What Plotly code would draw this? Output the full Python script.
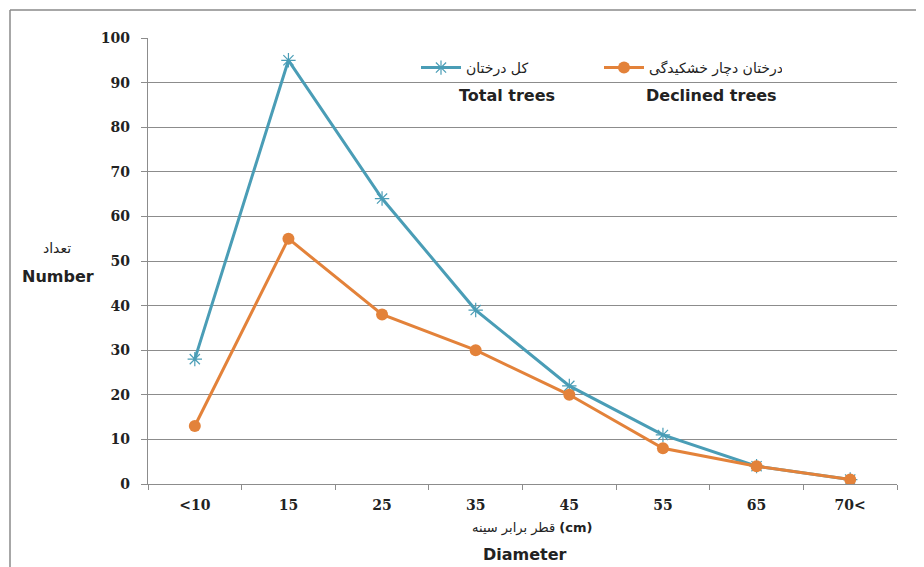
import plotly.graph_objects as go

categories = ["<10", "15", "25", "35", "45", "55", "65", "70<"]
total_trees = [28, 95, 64, 39, 22, 11, 4, 1]
declined_trees = [13, 55, 38, 30, 20, 8, 4, 1]
y_ticks = list(range(0, 101, 10))

# page body has an 8px default margin; work in reference pixel coords
OFF = 8
W, H = 924 - OFF, 567 - OFF
PL, PR, PT, PB = 148, 897, 38, 484   # plot area in reference coords
L = PL - OFF
T = PT - OFF
R = W - (PR - OFF)
B = H - (PB - OFF)
pw, ph = PR - PL, PB - PT

def px_x(x):
    return (x - PL) / pw

def px_y(y):
    return (PB - y) / ph

teal = "#4a9db6"
orange = "#e3823a"
grid = "#8c8c8c"

fig = go.Figure()
fig.add_trace(go.Scatter(
    x=categories, y=total_trees, mode="lines+markers", name="کل درختان",
    line=dict(color=teal, width=3),
    marker=dict(symbol="asterisk", size=12, line=dict(color=teal, width=1.2), color=teal),
))
fig.add_trace(go.Scatter(
    x=categories, y=declined_trees, mode="lines+markers", name="درختان دچار خشکیدگی",
    line=dict(color=orange, width=3),
    marker=dict(symbol="circle", size=12, color=orange),
))

tickfont = dict(family="DejaVu Serif", size=14, color="#222", weight="bold")

fig.update_layout(
    width=W, height=H,
    margin=dict(l=L, r=R, t=T, b=B, pad=0),
    paper_bgcolor="white", plot_bgcolor="white",
    showlegend=True,
    legend=dict(
        orientation="h", x=px_x(416), y=px_y(68), xanchor="left", yanchor="middle",
        entrywidth=128, entrywidthmode="pixels", itemwidth=40,
        font=dict(family="DejaVu Sans", size=14, color="#222"),
        bgcolor="rgba(0,0,0,0)", traceorder="normal",
    ),
    xaxis=dict(
        type="category", range=[-0.5, 7.5], tickson="boundaries",
        ticks="outside", ticklen=5, tickcolor=grid, showline=True, linecolor=grid, linewidth=1.2,
        showgrid=False, tickfont=tickfont, tickvals=categories, ticktext=categories,
        ticklabelstandoff=8,
    ),
    yaxis=dict(
        range=[0, 100], tickvals=y_ticks, ticks="outside", ticklen=6, tickcolor=grid,
        showline=True, linecolor=grid, linewidth=1.2, showgrid=True, gridcolor=grid, gridwidth=1,
        tickfont=tickfont, ticklabelstandoff=8, zeroline=False,
    ),
)

ann = [
    ("تعداد", 57, 248, "DejaVu Sans", 14, "normal"),
    ("Number", 58, 276, "DejaVu Sans", 16, "bold"),
    ("قطر برابر سینه <b>(cm)</b>", 532, 528, "DejaVu Sans", 13, "normal"),
    ("Diameter", 525, 554, "DejaVu Sans", 16, "bold"),
    ("Total trees", 507, 95, "DejaVu Sans", 16, "bold"),
    ("Declined trees", 711, 95, "DejaVu Sans", 16, "bold"),
]
for text, x, y, fam, size, wt in ann:
    fig.add_annotation(
        text=text, x=px_x(x), y=px_y(y), xref="paper", yref="paper",
        showarrow=False, xanchor="center", yanchor="middle",
        font=dict(family=fam, size=size, color="#222", weight=wt),
    )

# outer frame lines
fig.add_shape(type="line", xref="paper", yref="paper",
              x0=px_x(10), x1=px_x(940), y0=px_y(10), y1=px_y(10),
              line=dict(color="#8a8a8a", width=1.5))
fig.add_shape(type="line", xref="paper", yref="paper",
              x0=px_x(10), x1=px_x(10), y0=px_y(10), y1=px_y(580),
              line=dict(color="#8a8a8a", width=1.5))

fig.write_html("out.html")
